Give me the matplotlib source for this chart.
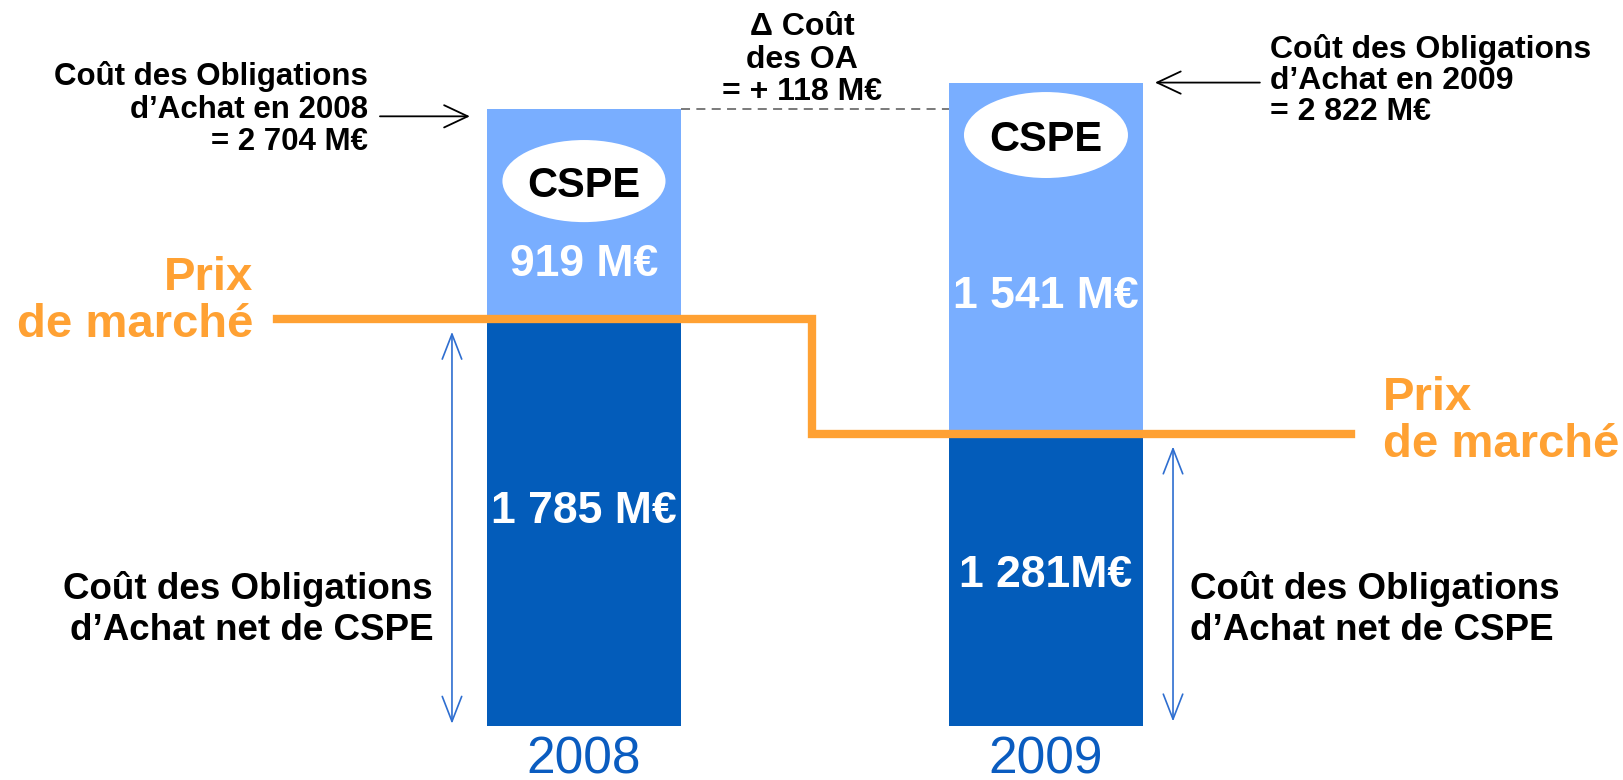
import matplotlib
matplotlib.use("Agg")
import matplotlib.pyplot as plt
from matplotlib.patches import Ellipse

plt.rcParams['font.family'] = ['Liberation Sans', 'DejaVu Sans']

# data (M€)
years = ['2008', '2009']
net_cost = [1785, 1281]        # coût des OA net de CSPE
cspe = [919, 1541]             # CSPE
total_cost = [2704, 2822]      # coût total des OA
net_labels = ['1 785 M€', '1 281M€']
cspe_labels = ['919 M€', '1 541 M€']
total_notes = ['Coût des Obligations\nd’Achat en 2008\n= 2 704 M€',
               'Coût des Obligations\nd’Achat en 2009\n= 2 822 M€']
delta_note = 'Δ Coût\ndes OA\n= + 118 M€'
net_note = 'Coût des Obligations\nd’Achat net de CSPE'
price_note = 'Prix\nde marché'

# layout
x = [0, 1]
width = 0.418
light = '#79AEFF'
dark = '#035CBA'
orange = '#FFA133'
year_blue = '#0A5CC0'
price_x = [-0.6645, 0.4935, 1.66]
cspe_label_y = [2044, 1904]
net_label_y = [961, 680]
ellipse_y = [2390, 2592]
ellipse_w = [0.353, 0.355]
ellipse_h = [360, 377]

fig = plt.figure(figsize=(16.23, 7.80), dpi=100)
ax = fig.add_axes([0, 0, 1, 1])
ax.set_xlim(-1.264, 2.249)
ax.set_ylim(-236.8, 3184.2)
ax.axis('off')

ax.bar(x, net_cost, width, color=dark, zorder=2)
ax.bar(x, cspe, width, bottom=net_cost, color=light, zorder=2)

# prix de marché
ax.plot(price_x, [net_cost[0], net_cost[1], net_cost[1]], drawstyle='steps-post',
        color=orange, lw=6, solid_joinstyle='miter', zorder=3)

for i in range(2):
    ax.add_patch(Ellipse((x[i], ellipse_y[i]), ellipse_w[i], ellipse_h[i],
                         facecolor='white', edgecolor='none', zorder=4))
    ax.text(x[i], ellipse_y[i], 'CSPE', ha='center', va='center_baseline',
            fontsize=30, fontweight='bold', color='black', zorder=5)
    ax.text(x[i], cspe_label_y[i], cspe_labels[i], ha='center', va='center_baseline',
            fontsize=32, fontweight='bold', color='white', zorder=5)
    ax.text(x[i], net_label_y[i], net_labels[i], ha='center', va='center_baseline',
            fontsize=32, fontweight='bold', color='white', zorder=5)
    ax.text(x[i], -210, years[i], ha='center', va='baseline',
            fontsize=37, color=year_blue)

# delta line between bar tops
ax.plot([x[0] + width / 2, x[1] - width / 2], [total_cost[0]] * 2,
        color='#6F6F6F', lw=1.3, dashes=(5, 3.5), zorder=1)

# arrows to bar tops
arrow_kw = dict(arrowstyle='->,head_length=0.85,head_width=0.4', color='black',
                lw=1.3, shrinkA=0, shrinkB=0, mutation_scale=20)
ax.annotate('', xy=(x[0] - width / 2 - 0.038, total_cost[0] - 30),
            xytext=(-0.4416, total_cost[0] - 30), arrowprops=arrow_kw)
ax.annotate('', xy=(x[1] + width / 2 + 0.027, total_cost[1]),
            xytext=(1.463, total_cost[1]), arrowprops=arrow_kw)

# vertical double arrows
double_kw = dict(arrowstyle='<->,head_length=0.9,head_width=0.35', color='#2E6ED0',
                 lw=1.2, shrinkA=0, shrinkB=0, mutation_scale=20)
ax.annotate('', xy=(-0.2857, 10), xytext=(-0.2857, net_cost[0] - 56), arrowprops=double_kw)
ax.annotate('', xy=(1.275, 20), xytext=(1.275, net_cost[1] - 55), arrowprops=double_kw)

# notes (va='baseline' aligns the last line)
fig.text(0.2267, 0.8077, total_notes[0], ha='right', va='baseline', fontsize=22.5,
         fontweight='bold', linespacing=1.1)
fig.text(0.4942, 0.8718, delta_note, ha='center', va='baseline', fontsize=23,
         fontweight='bold', linespacing=1.1, multialignment='center')
fig.text(0.7825, 0.8462, total_notes[1], ha='left', va='baseline', fontsize=23,
         fontweight='bold', linespacing=1.05)
fig.text(0.2668, 0.1795, net_note, ha='right', va='baseline', fontsize=26.5,
         fontweight='bold', linespacing=1.22)
fig.text(0.7332, 0.1795, net_note, ha='left', va='baseline', fontsize=26.5,
         fontweight='bold', linespacing=1.22)
fig.text(0.1559, 0.5679, price_note, ha='right', va='baseline', fontsize=34,
         fontweight='bold', color=orange, linespacing=1.1)
fig.text(0.8521, 0.4141, price_note, ha='left', va='baseline', fontsize=34,
         fontweight='bold', color=orange, linespacing=1.1)

fig.savefig('out.png', dpi=100)
